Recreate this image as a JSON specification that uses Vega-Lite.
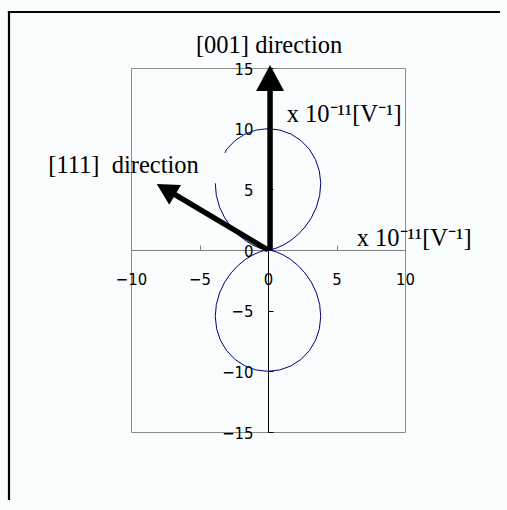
{
  "$schema": "https://vega.github.io/schema/vega-lite/v6.json",
  "width": 274,
  "height": 364,
  "autosize": {"type": "none"},
  "padding": {"left": 131, "top": 68, "right": 102, "bottom": 78},
  "background": "#f9fdfd",
  "config": {
    "view": {"stroke": "#8c8c8c", "strokeWidth": 1},
    "axis": {
      "grid": false,
      "title": null,
      "labelFont": "'Liberation Sans Narrow', 'DejaVu Sans Condensed', 'Arial Narrow', 'Liberation Sans', sans-serif",
      "labelFontSize": 16.5,
      "labelColor": "#000000",
      "labelFlush": false,
      "labelOverlap": false,
      "labelBound": false,
      "format": "d",
      "zindex": 1
    }
  },
  "datasets": {
    "curve": [
      {"seg": "a", "ord": 1, "x": -3.14, "y": 8.0},
      {"seg": "a", "ord": 2, "x": -3.02, "y": 8.298},
      {"seg": "a", "ord": 3, "x": -2.415, "y": 9.012},
      {"seg": "a", "ord": 4, "x": -1.684, "y": 9.551},
      {"seg": "a", "ord": 5, "x": -0.865, "y": 9.886},
      {"seg": "a", "ord": 6, "x": 0, "y": 10},
      {"seg": "a", "ord": 7, "x": 0.865, "y": 9.886},
      {"seg": "a", "ord": 8, "x": 1.684, "y": 9.551},
      {"seg": "a", "ord": 9, "x": 2.415, "y": 9.012},
      {"seg": "a", "ord": 10, "x": 3.02, "y": 8.298},
      {"seg": "a", "ord": 11, "x": 3.471, "y": 7.444},
      {"seg": "a", "ord": 12, "x": 3.75, "y": 6.495},
      {"seg": "a", "ord": 13, "x": 3.849, "y": 5.497},
      {"seg": "a", "ord": 14, "x": 3.772, "y": 4.495},
      {"seg": "a", "ord": 15, "x": 3.536, "y": 3.536},
      {"seg": "a", "ord": 16, "x": 3.165, "y": 2.656},
      {"seg": "a", "ord": 17, "x": 2.695, "y": 1.887},
      {"seg": "a", "ord": 18, "x": 2.165, "y": 1.25},
      {"seg": "a", "ord": 19, "x": 1.619, "y": 0.755},
      {"seg": "a", "ord": 20, "x": 1.099, "y": 0.4},
      {"seg": "a", "ord": 21, "x": 0.647, "y": 0.173},
      {"seg": "a", "ord": 22, "x": 0.297, "y": 0.052},
      {"seg": "a", "ord": 23, "x": 0.076, "y": 0.007},
      {"seg": "a", "ord": 24, "x": 0, "y": 0},
      {"seg": "a", "ord": 25, "x": 0.076, "y": -0.007},
      {"seg": "a", "ord": 26, "x": 0.297, "y": -0.052},
      {"seg": "a", "ord": 27, "x": 0.647, "y": -0.173},
      {"seg": "a", "ord": 28, "x": 1.099, "y": -0.4},
      {"seg": "a", "ord": 29, "x": 1.619, "y": -0.755},
      {"seg": "a", "ord": 30, "x": 2.165, "y": -1.25},
      {"seg": "a", "ord": 31, "x": 2.695, "y": -1.887},
      {"seg": "a", "ord": 32, "x": 3.165, "y": -2.656},
      {"seg": "a", "ord": 33, "x": 3.536, "y": -3.536},
      {"seg": "a", "ord": 34, "x": 3.772, "y": -4.495},
      {"seg": "a", "ord": 35, "x": 3.849, "y": -5.497},
      {"seg": "a", "ord": 36, "x": 3.75, "y": -6.495},
      {"seg": "a", "ord": 37, "x": 3.471, "y": -7.444},
      {"seg": "a", "ord": 38, "x": 3.02, "y": -8.298},
      {"seg": "a", "ord": 39, "x": 2.415, "y": -9.012},
      {"seg": "a", "ord": 40, "x": 1.684, "y": -9.551},
      {"seg": "a", "ord": 41, "x": 0.865, "y": -9.886},
      {"seg": "a", "ord": 42, "x": 0, "y": -10},
      {"seg": "a", "ord": 43, "x": -0.865, "y": -9.886},
      {"seg": "a", "ord": 44, "x": -1.684, "y": -9.551},
      {"seg": "a", "ord": 45, "x": -2.415, "y": -9.012},
      {"seg": "a", "ord": 46, "x": -3.02, "y": -8.298},
      {"seg": "a", "ord": 47, "x": -3.471, "y": -7.444},
      {"seg": "a", "ord": 48, "x": -3.75, "y": -6.495},
      {"seg": "a", "ord": 49, "x": -3.849, "y": -5.497},
      {"seg": "a", "ord": 50, "x": -3.772, "y": -4.495},
      {"seg": "a", "ord": 51, "x": -3.536, "y": -3.536},
      {"seg": "a", "ord": 52, "x": -3.165, "y": -2.656},
      {"seg": "a", "ord": 53, "x": -2.695, "y": -1.887},
      {"seg": "a", "ord": 54, "x": -2.165, "y": -1.25},
      {"seg": "a", "ord": 55, "x": -1.619, "y": -0.755},
      {"seg": "a", "ord": 56, "x": -1.099, "y": -0.4},
      {"seg": "a", "ord": 57, "x": -0.647, "y": -0.173},
      {"seg": "a", "ord": 58, "x": -0.297, "y": -0.052},
      {"seg": "a", "ord": 59, "x": -0.076, "y": -0.007},
      {"seg": "a", "ord": 60, "x": 0, "y": 0},
      {"seg": "a", "ord": 61, "x": -0.076, "y": 0.007},
      {"seg": "a", "ord": 62, "x": -0.297, "y": 0.052},
      {"seg": "a", "ord": 63, "x": -0.647, "y": 0.173},
      {"seg": "a", "ord": 64, "x": -1.099, "y": 0.4},
      {"seg": "a", "ord": 65, "x": -1.619, "y": 0.755},
      {"seg": "a", "ord": 66, "x": -2.165, "y": 1.25},
      {"seg": "a", "ord": 67, "x": -2.695, "y": 1.887},
      {"seg": "a", "ord": 68, "x": -3.165, "y": 2.656},
      {"seg": "a", "ord": 69, "x": -3.536, "y": 3.536},
      {"seg": "a", "ord": 70, "x": -3.772, "y": 4.495},
      {"seg": "a", "ord": 71, "x": -3.849, "y": 5.497}
    ],
    "arrows": [
      {"dir": "[001]", "x0": 0.15, "y0": 0, "x1": 0.15, "y1": 13.3, "tx": 0.15, "ty": 15.25},
      {"dir": "[111]", "x0": 0, "y0": 0, "x1": -7.0, "y1": 4.7, "tx": -8.12, "ty": 5.44}
    ],
    "labels": [
      {"t": "[001] direction", "x": -5.26, "y": 16.2},
      {"t": "x 10⁻¹¹[V⁻¹]", "x": 1.36, "y": 10.58},
      {"t": "x 10⁻¹¹[V⁻¹]", "x": 6.47, "y": 0.33},
      {"t": "[111]\u00a0 direction", "x": -16.04, "y": 6.37}
    ]
  },
  "layer": [
    {
      "data": {"name": "curve"},
      "mark": {"type": "line", "color": "#000080", "strokeWidth": 1, "clip": false},
      "encoding": {
        "x": {
          "field": "x", "type": "quantitative", "title": null,
          "scale": {"domain": [-10, 10], "nice": false, "zero": false},
          "axis": {
            "orient": "bottom", "offset": -182, "values": [-10, -5, 0, 5, 10],
            "domainColor": "#808080", "tickColor": "#808080", "tickSize": -5,
            "labelBaseline": "middle", "labelPadding": 34.5
          }
        },
        "y": {
          "field": "y", "type": "quantitative", "title": null,
          "scale": {"domain": [-15, 15], "nice": false, "zero": false},
          "axis": {
            "orient": "left", "offset": -137, "values": [-15, -10, -5, 0, 5, 10, 15],
            "domainColor": "#000000", "tickColor": "#000000", "tickSize": -5,
            "labelPadding": 20, "labelOffset": 1, "labelBaseline": "middle"
          }
        },
        "detail": {"field": "seg"},
        "order": {"field": "ord", "type": "quantitative"}
      }
    },
    {
      "data": {"values": [{"frame": "top"}]},
      "mark": {"type": "rule", "color": "#000000", "strokeWidth": 2.2, "strokeCap": "butt", "clip": false},
      "encoding": {
        "x": {"datum": -18.985, "type": "quantitative", "title": null, "scale": {"domain": [-10, 10], "nice": false, "zero": false}},
        "x2": {"datum": 16.93},
        "y": {"datum": 19.615, "type": "quantitative", "title": null, "scale": {"domain": [-15, 15], "nice": false, "zero": false}}
      }
    },
    {
      "data": {"values": [{"frame": "left"}]},
      "mark": {"type": "rule", "color": "#000000", "strokeWidth": 2.2, "strokeCap": "butt", "clip": false},
      "encoding": {
        "x": {"datum": -18.905, "type": "quantitative", "title": null, "scale": {"domain": [-10, 10], "nice": false, "zero": false}},
        "y": {"datum": 19.706, "type": "quantitative", "title": null, "scale": {"domain": [-15, 15], "nice": false, "zero": false}},
        "y2": {"datum": -20.6}
      }
    },
    {
      "data": {"name": "arrows"},
      "mark": {"type": "rule", "color": "#000000", "strokeWidth": 5.5, "strokeCap": "butt", "clip": false},
      "encoding": {
        "x": {"field": "x0", "type": "quantitative", "title": null, "scale": {"domain": [-10, 10], "nice": false, "zero": false}},
        "y": {"field": "y0", "type": "quantitative", "title": null, "scale": {"domain": [-15, 15], "nice": false, "zero": false}},
        "x2": {"field": "x1"},
        "y2": {"field": "y1"}
      }
    },
    {
      "data": {"name": "arrows"},
      "transform": [{"filter": "datum.dir === '[001]'"}],
      "mark": {"type": "point", "shape": "M0,0L1,1.857L-1,1.857Z", "filled": true, "color": "#000000", "opacity": 1, "size": 784, "strokeWidth": 0, "clip": false},
      "encoding": {
        "x": {"field": "tx", "type": "quantitative", "title": null, "scale": {"domain": [-10, 10], "nice": false, "zero": false}},
        "y": {"field": "ty", "type": "quantitative", "title": null, "scale": {"domain": [-15, 15], "nice": false, "zero": false}}
      }
    },
    {
      "data": {"name": "arrows"},
      "transform": [{"filter": "datum.dir === '[111]'"}],
      "mark": {"type": "point", "shape": "M0,0L1,1.857L-1,1.857Z", "filled": true, "color": "#000000", "opacity": 1, "size": 529, "angle": -59.3, "strokeWidth": 0, "clip": false},
      "encoding": {
        "x": {"field": "tx", "type": "quantitative", "title": null, "scale": {"domain": [-10, 10], "nice": false, "zero": false}},
        "y": {"field": "ty", "type": "quantitative", "title": null, "scale": {"domain": [-15, 15], "nice": false, "zero": false}}
      }
    },
    {
      "data": {"name": "labels"},
      "mark": {"type": "text", "font": "Liberation Serif", "fontSize": 24.5, "align": "left", "baseline": "alphabetic", "color": "#000000", "clip": false},
      "encoding": {
        "x": {"field": "x", "type": "quantitative", "title": null, "scale": {"domain": [-10, 10], "nice": false, "zero": false}},
        "y": {"field": "y", "type": "quantitative", "title": null, "scale": {"domain": [-15, 15], "nice": false, "zero": false}},
        "text": {"field": "t"}
      }
    }
  ]
}
